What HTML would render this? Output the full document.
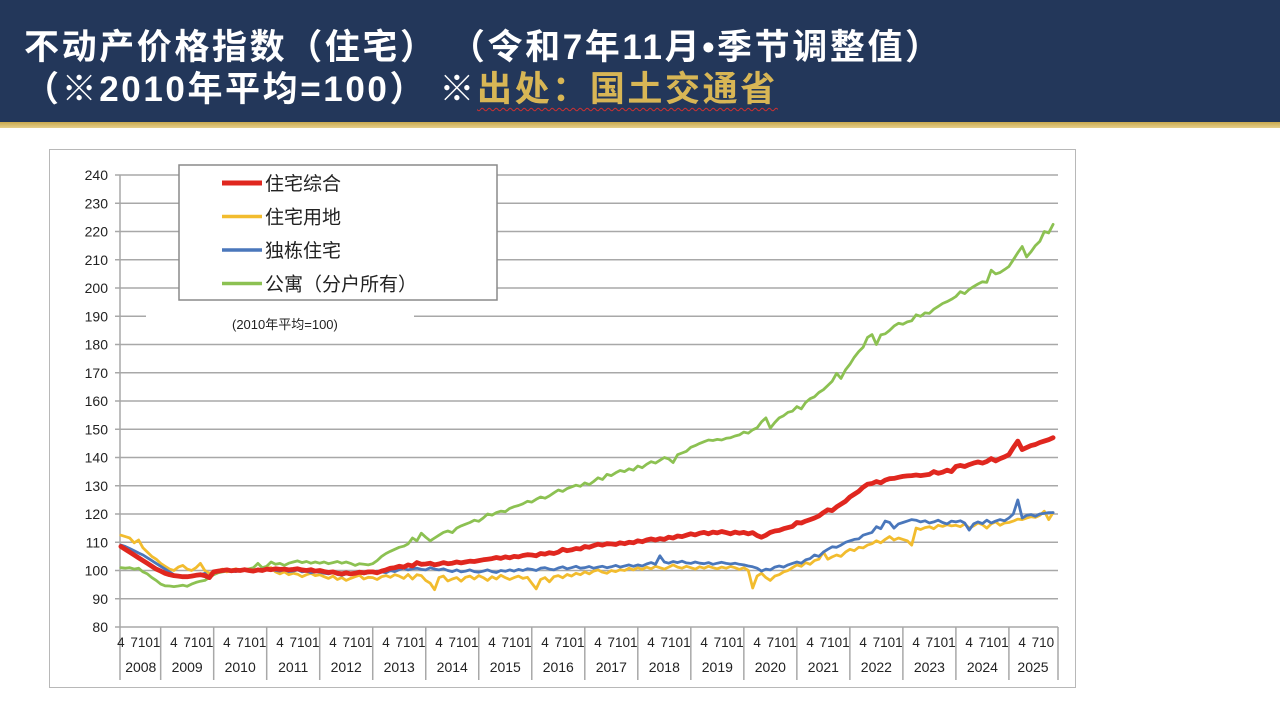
<!DOCTYPE html>
<html><head><meta charset="utf-8">
<style>
html,body{margin:0;padding:0;background:#fff;}
body{width:1280px;height:712px;position:relative;overflow:hidden;font-family:"Liberation Sans","Noto Sans CJK SC",sans-serif;}
#hdr{position:absolute;left:0;top:0;width:1280px;height:122px;background:#23375a;}
#gold{position:absolute;left:0;top:122px;width:1280px;height:6px;background:linear-gradient(#c9a94e,#e6cf8a);}
.t{position:absolute;color:#fff;font-weight:bold;font-size:35px;letter-spacing:2.6px;white-space:nowrap;font-family:"Liberation Sans","Noto Sans CJK SC",sans-serif;}
.gold{color:#d8b655;text-decoration:underline wavy #d03030;text-decoration-thickness:1px;text-underline-offset:6px;}
#frame{position:absolute;left:49px;top:149px;width:1027px;height:539px;border:1.5px solid #b8b8b8;box-sizing:border-box;}
svg{position:absolute;left:0;top:0;}
</style></head>
<body>
<div id="hdr"></div>
<div id="gold"></div>
<div class="t" style="left:24px;top:19px;">不动产价格指数（住宅） （令和7年11月•季节调整值）</div>
<div class="t" style="left:24px;top:61px;">（※2010年平均=100） ※<span class="gold">出处：国土交通省</span></div>
<div id="frame"></div>
<svg id="chart" width="1280" height="712"></svg>
<script>
const yTicks=[80,90,100,110,120,130,140,150,160,170,180,190,200,210,220,230,240];
const years=["2008","2009","2010","2011","2012","2013","2014","2015","2016","2017","2018","2019","2020","2021","2022","2023","2024","2025"];
const seriesNames=["住宅综合","住宅用地","独栋住宅","公寓（分户所有）"];
const red=[108.5,107.5,106.5,105.5,104.5,103.5,102.5,101.5,100.5,
99.8,99,98.5,98.2,98,97.8,97.8,98,98.3,98.5,98.2,97.5,
99.5,99.8,100,100.2,99.9,100.1,100,100.3,100,99.8,100.2,100,
100.5,100.3,100.6,100.4,100.5,100.2,100.4,100.6,100.2,100,100.3,99.8,
100,99.6,99.3,99.5,99,98.8,99.2,98.8,99,99.4,99.2,99.5,
99.5,99.2,99.8,100.2,100.8,101,101.5,101.2,102,101.6,102.8,102.2,
102.3,102.6,102,102.3,102.8,102.4,102.6,103,102.7,103,103.3,103.2,
103.5,103.8,104,104.2,104.6,104.3,104.8,104.5,105,104.8,105.3,105.6,
105.5,105.2,106,105.8,106.3,106,106.5,107.5,107,107.3,107.8,107.6,
108.5,108.2,108.8,109.3,109,109.5,109.4,109.2,109.8,109.5,110,109.8,
110.5,110.2,110.8,111.2,110.8,111.3,111,111.8,111.5,112.2,112,112.5,
113,112.6,113.2,113.5,113,113.6,113.3,113.8,113.4,113,113.6,113.2,
113.5,113,113.4,112.4,111.8,112.5,113.5,114,114.2,114.8,115.2,115.6,
117,116.8,117.5,118,118.6,119.3,120.5,121.5,121.2,122.5,123.5,124.5,
126,127,128,129.5,130.5,130.8,131.5,131,132,132.5,132.6,133,
133.3,133.5,133.6,133.8,133.6,133.8,134,135,134.4,134.8,135.5,135,
136.8,137.2,136.8,137.5,138,138.4,138,138.6,139.6,138.8,139.6,140.2,
141,143.5,145.8,142.8,143.5,144.2,144.6,145.3,145.8,146.3,147];
const yellow=[112.5,112,111.5,109.8,110.8,108,106.5,105,104,
102.5,101.5,100.5,100,101.2,101.8,100.5,100,101,102.5,100,99,
99.5,100,100.5,99.5,100.2,100.6,99.8,100.4,100.2,100,100.5,100.2,
100.8,101,99.5,98.8,99.5,98.5,99,98.7,97.8,98.5,99,98.2,
98.5,97.8,97.2,98,96.8,97.5,96.5,97.2,97.8,98.3,97,97.6,
97.5,96.8,97.8,98.2,97.6,98.5,98,97.2,98.6,97,98.5,98.2,
96.5,95.5,93.2,97.5,98,96.3,97,97.5,96.2,97.6,98,97,
98.2,97.5,96.5,97.8,97,98.3,97.5,96.8,97.5,98,97.2,97.6,
95.5,93.5,96.8,97.5,96,97.8,98.2,97.4,98.6,98,99,98.5,
99.5,98.8,99.8,100.2,99.4,99,100,99.6,100.3,100,100.8,100.2,
101,100.4,101.2,100.6,101.5,101,100.5,101.2,102,101.2,100.8,101.5,
101,100.5,101.3,100.8,101.5,101,100.6,101.2,100.8,101.4,101,100.4,
101,100,93.8,98,99,97.5,96.5,98,98.5,99.5,100,101,
102,101.5,102.8,102.2,103.5,104,106.5,104,104.8,105.5,105,106.5,
107.5,107,108.2,108,109,109.5,110.5,109.8,111,112,110.8,111.5,
111,110.5,109,115,114.5,115.2,115.5,114.8,116,115.6,116.2,115.8,
116,115.5,116.5,115,115.8,116.8,116.2,115,116.5,117.2,116,116.8,
117,117.5,118.2,118,118.6,119,118.8,119.5,121,118,120.5];
const blue=[109,108.5,107.8,107,106.2,105.5,104.5,103.5,102.5,
101.5,100.5,99.5,98.5,98.2,98,97.8,98,98.2,98.5,99,97.5,
99.5,100,99.8,100.2,100,99.6,100.3,100,99.8,100.2,100,100.5,
100.2,100.6,100,99.8,100.3,99.6,99.8,100.2,99.5,99.8,99.2,99.6,
99.4,99,98.8,99.3,98.6,98.3,98.8,98.5,99,99.2,98.8,99.2,
99.3,99.8,99.5,99.2,100,99.6,100.3,100.8,100.2,100.6,100.8,100.4,
100.2,101,100.5,100.2,100.6,100,99.6,100.2,99.5,99.8,100.2,99.6,
99.4,99.8,100.2,99.6,99.3,100,99.7,100.2,99.8,100.4,100,100.6,
100.4,100,100.8,101,100.5,100.2,100.9,101.3,100.6,101,101.5,100.8,
101,101.4,100.8,101.2,101.5,101,101.3,101.8,101.2,101.6,102,101.5,
102,101.6,102.3,102.8,102.2,105.2,103,102.6,103.2,102.8,103.3,102.7,
102.5,103,102.6,102.4,102.8,102.2,102.6,102.9,102.5,102.3,102.6,102.2,
102,101.6,101.3,100.8,99.8,100.5,100.2,101.2,101.6,101.2,102,102.5,
103,102.6,103.8,104.2,105.5,105,106.5,107.5,108.4,108.2,109,110,
110.5,111,111.2,112.5,113,113.5,115.5,114.8,117.5,117,115,116.5,
117,117.5,118,117.8,117.2,117.6,116.8,117.2,117.8,117,116.5,117.5,
117.2,117.6,116.8,114.3,116.5,117.2,116.6,117.8,116.8,117.5,118,117.6,
118.6,120,125,118.6,119.5,119.8,119.2,120,120.2,120.5,120.5];
const green=[101,100.8,101,100.5,100.8,99.5,98.8,97.5,96.5,
95.2,94.6,94.5,94.3,94.5,94.8,94.4,95.2,95.8,96.2,96.5,97.5,
98.5,99.2,99.5,99.8,99.6,100,100.3,100.2,100.6,101,102.5,101,
101.5,103,102.2,102.5,101.8,102.6,103,103.4,102.8,103.2,102.6,103,
102.6,103,102.4,102.8,103.2,102.6,103,102.5,101.8,102.4,102.2,102,
102.4,103.5,105,106,106.8,107.5,108.2,108.6,109.4,111.5,110.5,113.2,
111.8,110.5,111.5,112.5,113.5,114,113.4,115,115.8,116.4,117,117.8,
117.4,118.6,120,119.6,120.5,121,120.8,122,122.6,123,123.6,124.5,
124.2,125.2,126,125.6,126.4,127.5,128.5,128,129,129.6,130.2,129.8,
131,130.4,131.5,132.8,132.2,134,133.6,134.6,135.4,135,136,135.5,
137,136.4,137.6,138.5,138,139,140,139.5,138.2,141,141.6,142.2,
143.6,144.2,145,145.6,146.2,146,146.4,146.2,146.8,147,147.6,148,
149,148.6,149.8,150.5,152.6,154,150.4,152.4,154,154.8,156,156.4,
158,157.2,159.5,160.8,161.5,163,164,165.5,167,169.8,168,171,
173,175.5,177.5,179,182.5,183.5,180,183.4,183.8,185,186.5,187.5,
187.2,188,188.4,190.5,190,191.2,191,192.5,193.5,194.5,195.2,196,
197,198.7,198,199.5,200.5,201.4,202.2,202,206.3,205,205.5,206.5,
207.6,210,212.5,214.7,211,212.8,215,216.5,220,219.5,222.5];

const NS="http://www.w3.org/2000/svg";
const svg=document.getElementById('chart');
const X0=120.9, DX=4.418, Y80=627, PX=2.825;
const xs=i=>X0+i*DX;
const ys=v=>Y80-(v-80)*PX;
const PL=120, PR=1058;
function el(tag,attrs,parent){const e=document.createElementNS(NS,tag);for(const k in attrs)e.setAttribute(k,attrs[k]);(parent||svg).appendChild(e);return e;}

yTicks.forEach(v=>{
  const g=el('line',{x1:PL-5,x2:PR,y1:ys(v),y2:ys(v),stroke:'#a8a8a8','stroke-width':1.5});
  
  
  const t=el('text',{x:108,y:ys(v)+5,'text-anchor':'end','font-size':14,fill:'#222','font-family':'Liberation Sans, sans-serif'});
  t.textContent=v;
  
  
});
const ya=el('line',{x1:PL,x2:PL,y1:ys(240),y2:680,stroke:'#a8a8a8','stroke-width':1.5});


const yb=el('line',{x1:PR,x2:PR,y1:ys(80),y2:680,stroke:'#a8a8a8','stroke-width':1.5});



years.forEach((yr,k)=>{
  const startM = k===0?0:9+(k-1)*12;
  const endM = k===years.length-1?211.9:9+k*12;
  if(k>0){
    const d=el('line',{x1:xs(startM),x2:xs(startM),y1:ys(80),y2:680,stroke:'#a8a8a8','stroke-width':1.5});
    
    
  }
  const yl=el('text',{x:(xs(startM)+Math.min(xs(endM),PR))/2,y:672,'text-anchor':'middle','font-size':14,fill:'#222','font-family':'Liberation Sans, sans-serif'});
  yl.textContent=yr;
  
  
});
for(let m=0;m<212;m+=3){
  const mon=((m+3)%12)+1;
  const lab=el('text',{x:xs(m)+(mon===1?-4:(mon===10?-2:0)),y:647,'text-anchor':'middle','font-size':13.5,fill:'#222','font-family':'Liberation Sans, sans-serif'});
  lab.textContent=mon;
  
  
}

const seriesData=[green,yellow,blue,red];
const colors=['#8cc152','#f2bc2e','#4a77bb','#e0271f'];
const widths=[2.8,2.8,2.8,4.8];
const snames=['series-apartment','series-residential-land','series-detached-house','series-residential-total'];
seriesData.forEach((arr,s)=>{
  const d=arr.map((v,i)=>(i?'L':'M')+xs(i).toFixed(1)+','+ys(v).toFixed(1)).join('');
  const p=el('path',{d:d,fill:'none',stroke:colors[s],'stroke-width':widths[s],'stroke-linejoin':'round','stroke-linecap':'round'});
  
  
});

const lg=el('g',{});


el('rect',{x:179,y:165,width:318,height:135,fill:'#fff',stroke:'#8a8a8a','stroke-width':1.5},lg);
const lcol=['#e0271f','#f2bc2e','#4a77bb','#8cc152'];
seriesNames.forEach((n,i)=>{
  const yy=183+i*33.5;
  const ln=el('line',{x1:222,x2:262,y1:yy,y2:yy,stroke:lcol[i],'stroke-width':i===0?5:3.5},lg);
  
  
  const t=el('text',{x:265,y:yy+7,'font-size':19,fill:'#222','font-family':'Liberation Sans, Noto Sans CJK SC, sans-serif'},lg);
  t.textContent=n;
  
  
});
el('rect',{x:146,y:306,width:268,height:24,fill:'#fff'});
const note=el('text',{x:232,y:329,'font-size':13,fill:'#222','font-family':'Liberation Sans, Noto Sans CJK SC, sans-serif'});
note.textContent='(2010年平均=100)';


</script>
</body></html>
